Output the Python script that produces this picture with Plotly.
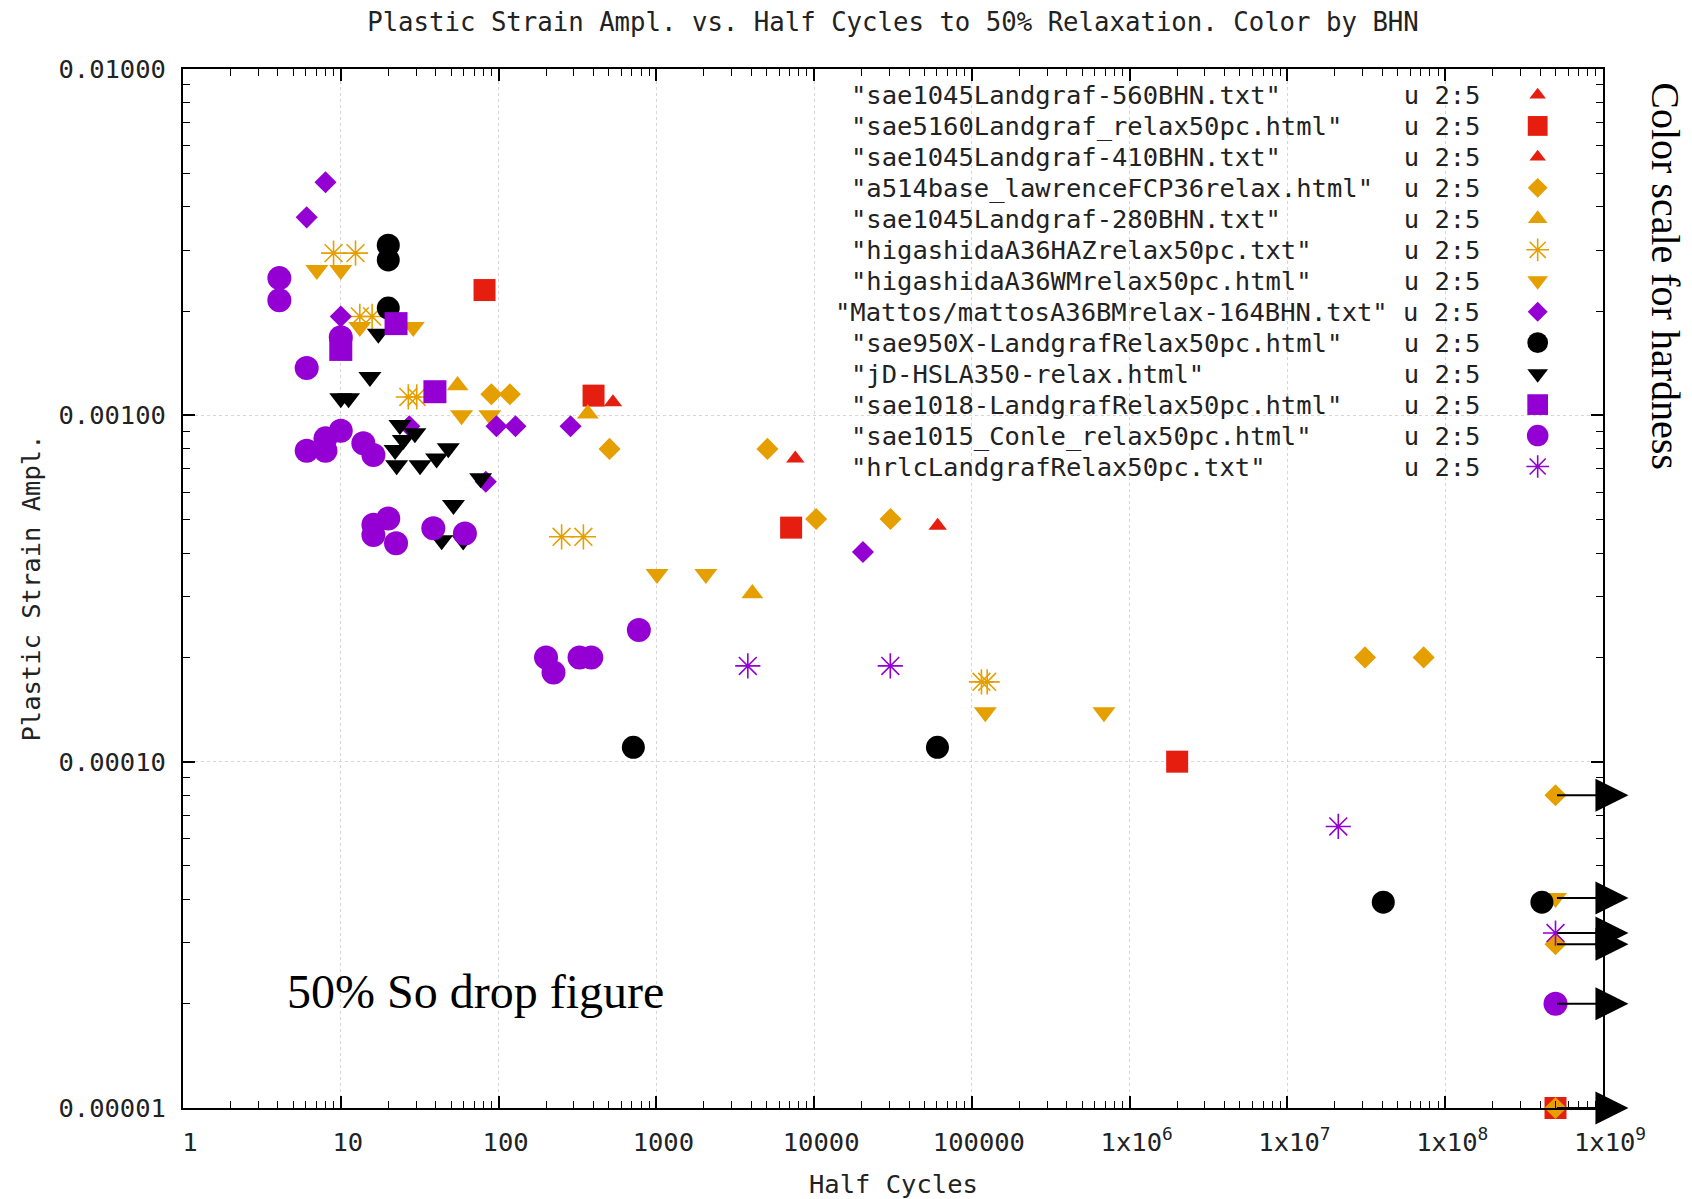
import numpy as np
import plotly.graph_objects as go

# Half cycles to 50 % relaxation of the mean stress vs. plastic strain amplitude.
# Points at RUNOUT did not reach 50 % relaxation (run-outs, marked with arrows).
RUNOUT = 5e8

sae1045_560_x = [531, 7600]
sae1045_560_y = [0.00109, 0.00075]

sae5160_x = [81.5, 400, 7150, 2.0e6, RUNOUT]
sae5160_y = [0.0023, 0.00114, 0.000474, 0.0001, 1.0e-5]

sae1045_410_x = [60700]
sae1045_410_y = [0.00048]

a514_x = [90, 118, 505, 5060, 10300, 30500, 3.1e7, 7.3e7, RUNOUT, RUNOUT, RUNOUT]
a514_y = [0.00115, 0.00115, 0.0008, 0.0008, 0.000502, 0.000502, 0.0002, 0.0002,
          8.0e-5, 2.97e-5, 1.0e-5]

sae1045_280_x = [55, 368, 4060]
sae1045_280_y = [0.00122, 0.00101, 0.000306]

a36haz_x = [9.0, 12.4, 13.2, 15.8, 26.8, 30.3, 251, 345, 115000, 125000]
a36haz_y = [0.00294, 0.00294, 0.00193, 0.00193, 0.00113, 0.00113, 0.000446, 0.000446,
            0.00017, 0.00017]

a36wm_x = [7.05, 10, 13.2, 28.8, 58.3, 88, 1010, 2060, 121600, 687000, RUNOUT]
a36wm_y = [0.00263, 0.00263, 0.0018, 0.0018, 0.001, 0.001, 0.000348, 0.000348,
           0.000139, 0.000139, 4.04e-5]

mattos_x = [8.0, 6.08, 10.0, 27.2, 97, 128, 286, 83, 20400]
mattos_y = [0.00471, 0.00373, 0.00193, 0.00093, 0.00093, 0.00093, 0.00093, 0.000643, 0.000403]

sae950x_x = [20, 20, 20, 715, 60500, 4.05e7, 4.1e8]
sae950x_y = [0.0031, 0.00281, 0.00204, 0.00011, 0.00011, 3.93e-5, 3.93e-5]

hsla350_x = [17.3, 15.3, 10, 11.2, 23.7, 24.9, 29.5, 22.1, 22.6, 31.8, 40.5, 48, 77,
             51.8, 43.6, 59.7]
hsla350_y = [0.00172, 0.00129, 0.00112, 0.00112, 0.000938, 0.000849, 0.000887, 0.000794,
             0.000718, 0.000718, 0.000751, 0.000803, 0.000658, 0.000551, 0.000436, 0.000435]

sae1018_x = [22.4, 10, 39.5]
sae1018_y = [0.00184, 0.00155, 0.00117]

sae1015_x = [4.08, 4.08, 6.08, 6.08, 8.0, 8.0, 10.0, 13.9, 16.1, 16.1, 16.1, 20, 22.4,
             38.6, 61.2, 200, 223, 326, 387, 775, 10, RUNOUT]
sae1015_y = [0.00249, 0.00215, 0.00137, 0.00079, 0.00079, 0.000858, 0.000903, 0.00083,
             0.000768, 0.000483, 0.000451, 0.000504, 0.000427, 0.000472, 0.000456, 0.0002,
             0.000181, 0.0002, 0.0002, 0.00024, 0.00168, 2.0e-5]

hrlc_x = [3800, 30400, 2.1e7, RUNOUT]
hrlc_y = [0.000189, 0.000189, 6.5e-5, 3.2e-5]

# key labels (file names used in the plot command)
labels = [
    "sae1045Landgraf-560BHN.txt",
    "sae5160Landgraf_relax50pc.html",
    "sae1045Landgraf-410BHN.txt",
    "a514base_lawrenceFCP36relax.html",
    "sae1045Landgraf-280BHN.txt",
    "higashidaA36HAZrelax50pc.txt",
    "higashidaA36WMrelax50pc.html",
    "Mattos/mattosA36BMrelax-164BHN.txt",
    "sae950X-LandgrafRelax50pc.html",
    "jD-HSLA350-relax.html",
    "sae1018-LandgrafRelax50pc.html",
    "sae1015_Conle_relax50pc.html",
    "hrlcLandgrafRelax50pc.txt",
]

x_tick_vals = [1, 10, 100, 1000, 1e4, 1e5, 1e6, 1e7, 1e8, 1e9]
x_tick_text = ["1", "10", "100", "1000", "10000", "100000",
               "1x10<sup>6</sup>", "1x10<sup>7</sup>", "1x10<sup>8</sup>", "1x10<sup>9</sup>"]
y_tick_vals = [1e-5, 1e-4, 1e-3, 1e-2]
y_tick_text = ["0.00001", "0.00010", "0.00100", "0.01000"]

# ---- styling ----
RED = "#e51e10"
ORANGE = "#e69f00"
PURPLE = "#9400d3"
BLACK = "#000000"
MONO = "DejaVu Sans Mono"
SERIF = "Liberation Serif"
TEXT = "#222222"
FS = 25.5

series = [
    (sae1045_560_x, sae1045_560_y, RED, "triangle-up", 16),
    (sae5160_x, sae5160_y, RED, "square", 22),
    (sae1045_410_x, sae1045_410_y, RED, "triangle-up", 16),
    (a514_x, a514_y, ORANGE, "diamond", 17),
    (sae1045_280_x, sae1045_280_y, ORANGE, "triangle-up", 19),
    (a36haz_x, a36haz_y, ORANGE, "asterisk-open", 21),
    (a36wm_x, a36wm_y, ORANGE, "triangle-down", 20),
    (mattos_x, mattos_y, PURPLE, "diamond", 17),
    (sae950x_x, sae950x_y, BLACK, "circle", 23),
    (hsla350_x, hsla350_y, BLACK, "triangle-down", 20),
    (sae1018_x, sae1018_y, PURPLE, "square", 23),
    (sae1015_x, sae1015_y, PURPLE, "circle", 24),
    (hrlc_x, hrlc_y, PURPLE, "asterisk-open", 21),
]


def marker_style(color, symbol, size):
    m = dict(color=color, symbol=symbol, size=size, line=dict(width=0))
    if symbol.startswith("asterisk"):
        m["line"] = dict(color=color, width=1.6)
    return m


fig = go.Figure()

for (xs, ys, color, symbol, size), name in zip(series, labels):
    fig.add_trace(go.Scatter(
        x=xs, y=ys, mode="markers", name=name, showlegend=False,
        marker=marker_style(color, symbol, size), cliponaxis=False,
    ))

# ---- key: right-justified text, then the point sample ----
KEY_TOP = 0.975
KEY_STEP = 0.0298
KEY_TEXT_RIGHT = 0.9148
KEY_SAMPLE_X = 0.954
PAD = 35

key_y = [KEY_TOP - i * KEY_STEP for i in range(len(labels))]
for (xs, ys, color, symbol, size), name, ky in zip(series, labels, key_y):
    quoted = '"' + name + '"'
    row = quoted + "\u00a0" * max(0, PAD - len(quoted)) + " u 2:5"
    fig.add_annotation(
        x=KEY_TEXT_RIGHT, y=ky, xref="paper", yref="paper", text=row,
        showarrow=False, xanchor="right", yanchor="middle",
        font=dict(family=MONO, size=FS, color=TEXT),
    )
    fig.add_trace(go.Scatter(
        x=[KEY_SAMPLE_X], y=[ky], xaxis="x2", yaxis="y2", mode="markers",
        showlegend=False, hoverinfo="skip", cliponaxis=False,
        marker=marker_style(color, symbol, size * 0.9),
    ))

# opaque key background (hides the grid behind the key)
fig.add_shape(type="rect", xref="paper", yref="paper", x0=0.455, x1=0.969, y0=0.6025,
              y1=0.9885, fillcolor="white", line=dict(width=0), layer="between")

# ---- run-out arrows ----
ARROW_TIP = 1.45e9
runout_levels = []
for xs, ys, *_ in series:
    for xv, yv in zip(xs, ys):
        if xv == RUNOUT and yv not in runout_levels:
            runout_levels.append(yv)
for yv in runout_levels:
    fig.add_annotation(
        x=np.log10(ARROW_TIP), y=np.log10(yv), ax=np.log10(RUNOUT), ay=np.log10(yv),
        xref="x", yref="y", axref="x", ayref="y", text="", showarrow=True,
        arrowhead=2, arrowwidth=2, arrowsize=3.3, arrowcolor="black",
    )

# ---- free text ----
fig.add_annotation(x=0.206, y=0.1126, xref="paper", yref="paper", text="50% So drop figure",
                   showarrow=False, xanchor="center", yanchor="middle",
                   font=dict(family=SERIF, size=48, color="black"))
fig.add_annotation(x=1.0435, y=0.8008, xref="paper", yref="paper",
                   text="Color scale for hardness", textangle=90, showarrow=False,
                   xanchor="center", yanchor="middle",
                   font=dict(family=SERIF, size=40, color="black"))
fig.add_annotation(x=0.5, y=-0.0731, xref="paper", yref="paper", text="Half Cycles",
                   showarrow=False, xanchor="center", yanchor="middle",
                   font=dict(family=MONO, size=FS, color=TEXT))
fig.add_annotation(x=-0.1077, y=0.5, xref="paper", yref="paper",
                   text="Plastic Strain Ampl.", textangle=-90, showarrow=False,
                   xanchor="center", yanchor="middle",
                   font=dict(family=MONO, size=FS, color=TEXT))

x_minor = [k * 10.0 ** d for d in range(0, 9) for k in range(2, 10)]
y_minor = [k * 10.0 ** d for d in range(-5, -2) for k in range(2, 10)]

axis_common = dict(
    type="log", showline=True, linewidth=2, linecolor="black", mirror="ticks",
    ticks="inside", ticklen=12, tickwidth=1.5, tickcolor="black",
    tickmode="array", showgrid=True, gridcolor="#d6d6d6", griddash="dot", gridwidth=1.3,
    zeroline=False, tickfont=dict(family=MONO, size=FS, color=TEXT),
    ticklabelstandoff=10,
)

fig.update_layout(
    width=1692, height=1199,
    margin=dict(l=183, r=89, t=69, b=91, autoexpand=False),
    paper_bgcolor="white", plot_bgcolor="white",
    showlegend=False,
    title=dict(text="Plastic Strain Ampl. vs. Half Cycles to 50% Relaxation. Color by BHN",
               x=0.5, xref="paper", xanchor="center", y=1 - 22.5 / 1199, yref="container",
               yanchor="middle", font=dict(family=MONO, size=25.7, color=TEXT)),
    xaxis=dict(axis_common, range=[0, 9], tickvals=x_tick_vals, ticktext=x_tick_text,
               ticklabelshift=7,
               minor=dict(tickmode="array", tickvals=x_minor, ticks="inside", ticklen=7,
                          tickwidth=1.2, tickcolor="black", showgrid=False)),
    yaxis=dict(axis_common, range=[-5, -2], tickvals=y_tick_vals, ticktext=y_tick_text,
               minor=dict(tickmode="array", tickvals=y_minor, ticks="inside", ticklen=7,
                          tickwidth=1.2, tickcolor="black", showgrid=False)),
    xaxis2=dict(overlaying="x", anchor="y2", range=[0, 1], visible=False, fixedrange=True),
    yaxis2=dict(overlaying="y", anchor="x2", range=[0, 1], visible=False, fixedrange=True),
)

fig.write_html("out.html")
